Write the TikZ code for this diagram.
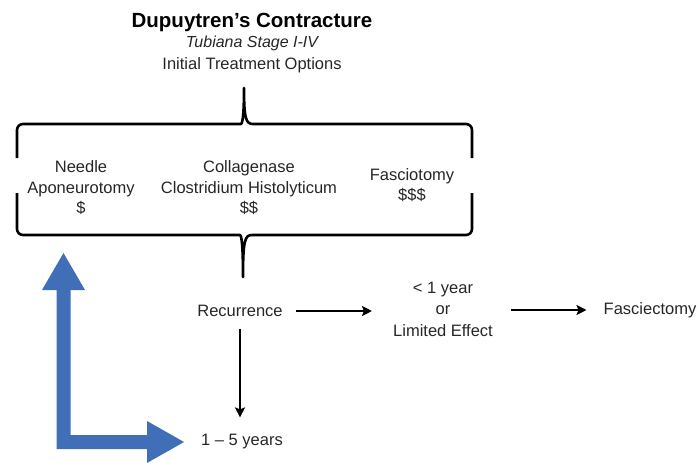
\documentclass[tikz,border=0pt]{standalone}
\usepackage{fontspec}
\setmainfont{Liberation Sans}
\usetikzlibrary{arrows.meta, positioning}
\definecolor{bigblue}{RGB}{64,111,183}

\begin{document}
\begin{tikzpicture}[x=1pt, y=-1pt,
    every node/.style={font=\fontsize{16.5}{20.5}\selectfont, align=center, inner sep=0pt, text=black!85},
    flow/.style={-{Stealth[length=10pt, width=10pt, inset=2pt]}, line width=2.1pt},
    brace/.style={line width=2.6pt, line join=round, rounded corners=6pt}]
    \useasboundingbox (0,0) rectangle (697,463);

    % Heading
    \node[font=\fontsize{20.5}{24}\selectfont\bfseries, text=black] (title) at (252,22) {Dupuytren’s Contracture};
    \node[font=\fontsize{16}{20}\selectfont\itshape] (stage) at (252,43) {Tubiana Stage I-IV};
    \node (initial) at (252,65) {Initial Treatment Options};

    % Upper brace
    \draw[brace] (17,158) -- (17,124) -- (235,124)
      [sharp corners] .. controls (242,124) and (244,119) .. (244,88)
      .. controls (244,119) and (246,124) .. (253,124)
      [rounded corners=6pt] -- (472,124) -- (472,158);

    % Options
    \node (needle) at (81,188) {Needle\\Aponeurotomy\\\$};
    \node (collagenase) at (249,188) {Collagenase\\Clostridium Histolyticum\\\$\$};
    \node (fasciotomy) at (412,185) {Fasciotomy\\\$\$\$};

    % Lower brace
    \draw[brace] (17,193) -- (17,235) -- (234,235)
      [sharp corners] .. controls (241,235) and (243,240) .. (243,277)
      .. controls (243,240) and (245,235) .. (252,235)
      [rounded corners=6pt] -- (472,235) -- (472,193);

    % Outcomes
    \node (rec) at (240,311) {Recurrence};
    \node[font=\fontsize{16.5}{21.5}\selectfont] (lim) at (443,309) {< 1 year\\or\\Limited Effect};
    \node (fas) at (650,310) {Fasciectomy};
    \node (years) at (242,442) {1 -- 5 years};

    \draw[flow, shorten <=13pt, shorten >=21pt] (rec.east) -- (rec.east -| lim.west);
    \draw[flow, shorten <=18pt, shorten >=17pt] (lim.east |- fas.west) -- (fas.west);
    \draw[flow, shorten <=12pt, shorten >=17pt] (rec.south) -- (rec.south |- years.north);

    % Blue L arrow
    \fill[bigblue] (56.5,449) -- (56.5,290) -- (42,290) -- (63.5,253) -- (85,290)
      -- (70.5,290) -- (70.5,435) -- (147,435) -- (147,421) -- (184,442)
      -- (147,463) -- (147,449) -- cycle;
  \end{tikzpicture}
\end{document}
